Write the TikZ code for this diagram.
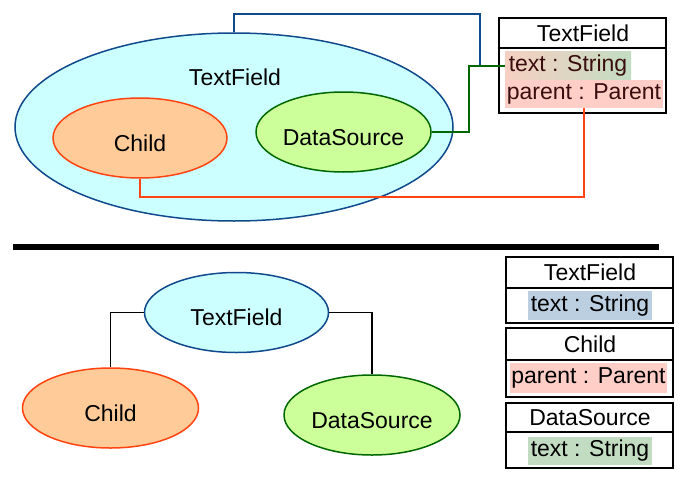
\documentclass[tikz,border=0pt]{standalone}
\usepackage{fontspec}
\setmainfont{Liberation Sans}
\usetikzlibrary{positioning}
\usetikzlibrary{shapes.geometric}
\definecolor{tfline}{RGB}{16,74,140}
\definecolor{tffill}{RGB}{204,255,255}
\definecolor{chline}{RGB}{255,68,17}
\definecolor{chfill}{RGB}{255,204,153}
\definecolor{dsline}{RGB}{0,102,0}
\definecolor{dsfill}{RGB}{204,255,153}
\definecolor{hlred}{RGB}{255,206,198}
\definecolor{hlmix}{RGB}{246,208,194}
\definecolor{hlblue}{RGB}{188,207,225}
\definecolor{hlgreen}{RGB}{194,220,194}
\definecolor{fldtxt}{RGB}{58,14,14}
\tikzstyle{blob} = [ellipse, line width=0.75pt, inner sep=0pt,
text height=14pt, text depth=1pt]
\tikzstyle{field} = [inner sep=0pt, minimum height=14pt]
\tikzstyle{frame} = [line width=0.8pt]
\tikzstyle{link} = [line width=0.75pt]
% class box frame: x1, y1, x2, y2, header line
\newcommand{\umlframe}[5]{%
\draw[frame] (#1,#2) rectangle (#3,#4);
\draw[frame] (#1,#5) -- (#3,#5);}

\begin{document}
\begin{tikzpicture}[x=0.5pt, y=-0.5pt,
		every node/.style={font=\fontsize{11.5}{13}\selectfont}]
		% one unit = one pixel of the sketch, y grows downwards
		\useasboundingbox (0,0) rectangle (683,476);
		
		% ---- 1. Nested view ----
		\node[blob, draw=tfline, fill=tffill, minimum width=219pt, minimum height=94pt] (outer) at (234,127) {};
		\node (outerlbl) at (235,77) {TextField};
		\node[blob, draw=chline, fill=chfill, minimum width=87pt, minimum height=40pt] (childin) at (140,138) {Child};
		\node[blob, draw=dsline, fill=dsfill, minimum width=87.5pt, minimum height=40pt] (dsin) at (343.5,132) {DataSource};
		
		% class with two fields
		\node[field, left color=hlmix, right color=hlgreen, text=fldtxt, minimum width=63pt] (ftext) at (568,66) {text : String};
		\node[field, fill=hlred, text=fldtxt, minimum width=79pt] (fparent) at (584,94) {parent : Parent};
		\umlframe{499}{18}{666}{113}{48}
		\node (tfhead) at (583,33) {TextField};
		
		% connectors
		\coordinate (top) at (0,14);
		\coordinate (jn) at (480,66);
		\coordinate (gbend) at (469,66);
		\coordinate (obend) at (584,197);
		\draw[link, tfline] (outer.north) -- (outer.north |- top) -| (jn);
		\draw[link, dsline] (dsin.east) -| (gbend) -- (ftext.west);
		\draw[link, chline] (childin.south) |- (obend) -- (fparent.south);
		
		% ---- 2. Separator ----
		\draw[line width=2.75pt] (13,247) -- (659,247);
		
		% ---- 3. Tree view ----
		\node[blob, draw=tfline, fill=tffill, minimum width=92pt, minimum height=40pt] (tfnode) at (236.5,312.5) {TextField};
		\node[blob, draw=chline, fill=chfill, minimum width=88pt, minimum height=40pt] (chnode) at (110.5,408) {Child};
		\node[blob, draw=dsline, fill=dsfill, minimum width=88pt, minimum height=40pt] (dsnode) at (372,415) {DataSource};
		\draw[link] (tfnode.west) -| (chnode.north);
		\draw[link] (tfnode.east) -| (dsnode.north);
		
		% ---- 4. Separate classes ----
		\umlframe{506}{257}{673}{323}{288}
		\node (tfcls) at (590,272.5) {TextField};
		\node[field, fill=hlblue, minimum width=62pt, minimum height=14.5pt] (tffld) at (590,305.5) {text : String};
		
		\umlframe{506}{328}{673}{397}{360}
		\node (chcls) at (590,344) {Child};
		\node[field, fill=hlred, minimum width=78.5pt, minimum height=15pt] (chfld) at (588.5,378) {parent : Parent};
		
		\umlframe{506}{403}{673}{468}{432}
		\node (dscls) at (590,417.5) {DataSource};
		\node[field, fill=hlgreen, minimum width=62pt] (dsfld) at (590,451) {text : String};
		
	\end{tikzpicture}
\end{document}
